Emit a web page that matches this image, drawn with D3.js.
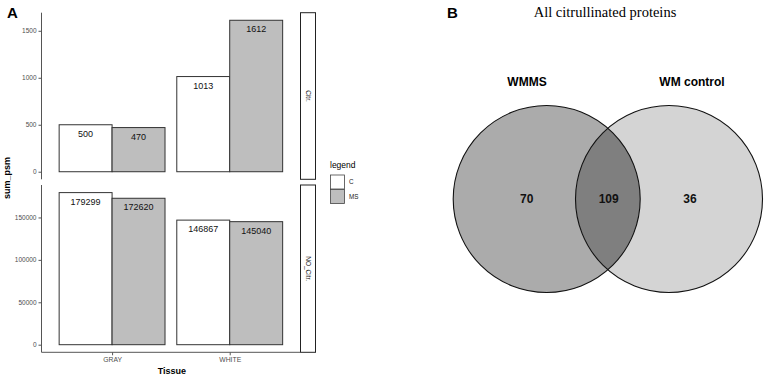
<!DOCTYPE html>
<html>
<head>
<meta charset="utf-8">
<script src="https://cdn.jsdelivr.net/npm/d3@7"></script>
<style>
  body { margin: 0; background: #fff; }
  svg { display: block; }
</style>
</head>
<body>
<div id="chart"></div>
<script>
// bar chart data (panel A)
const tissues = ["GRAY", "WHITE"];
const groups = ["C", "MS"];
const facets = ["Citr.", "NO_Citr."];
const citrC = [500, 1013];
const citrMS = [470, 1612];
const noCitrC = [179299, 146867];
const noCitrMS = [172620, 145040];
const citrTicks = [0, 500, 1000, 1500];
const noCitrTicks = [0, 50000, 100000, 150000];
const groupColors = ["#ffffff", "#bebebe"];

// venn data (panel B)
const vennTitle = "All citrullinated proteins";
const vennSets = ["WMMS", "WM control"];
const vennCounts = [70, 109, 36];
const vennColors = ["#ababab", "#7f7f7f", "#d4d4d4"];

const W = 767, H = 378;
const svg = d3.select("#chart").append("svg")
  .attr("width", W).attr("height", H)
  .attr("font-family", "Liberation Sans, Arial, sans-serif");

// ---------- panel A ----------
svg.append("text").attr("x", 7).attr("y", 18)
  .attr("font-size", "15px").attr("font-weight", "bold").text("A");

const panelX = [41.5, 300.3];
const panels = [
  {name: facets[0], top: 12.7, bottom: 179.3, c: citrC, ms: citrMS, ticks: citrTicks},
  {name: facets[1], top: 185, bottom: 352.3, c: noCitrC, ms: noCitrMS, ticks: noCitrTicks}
];

// ggplot style discrete scale: centers at 1,2 with 0.6 expansion
const xc = d3.scaleLinear().domain([0.4, 2.6]).range(panelX);
const xg = d3.scaleBand().domain(groups).range([-0.45, 0.45]);

panels.forEach(function(p){
  const maxV = d3.max(p.c.concat(p.ms));
  const y = d3.scaleLinear()
    .domain([-maxV * 0.05, maxV * 1.05])
    .range([p.bottom, p.top]);

  const g = svg.append("g");

  // bars
  tissues.forEach(function(t, i){
    [p.c, p.ms].forEach(function(vals, k){
      const x0 = xc(i + 1 + xg(groups[k]));
      const x1 = xc(i + 1 + xg(groups[k]) + xg.bandwidth());
      g.append("rect")
        .attr("x", x0).attr("y", y(vals[i]))
        .attr("width", x1 - x0).attr("height", y(0) - y(vals[i]))
        .style("fill", groupColors[k])
        .style("stroke", "#333")
        .style("stroke-width", 1);
      g.append("text")
        .attr("x", (x0 + x1) / 2).attr("y", y(vals[i]) + 12)
        .attr("text-anchor", "middle")
        .attr("font-size", "9px")
        .attr("fill", "#111")
        .text(vals[i]);
    });
  });

  // y axis
  const ya = g.append("g")
    .attr("transform", "translate(" + panelX[0] + ",0)")
    .call(d3.axisLeft(y).tickValues(p.ticks).tickFormat(d3.format("d"))
      .tickSize(3).tickPadding(2).tickSizeOuter(0));
  ya.select(".domain").attr("stroke", "#555").attr("d", "M0," + p.top + "V" + p.bottom);
  ya.selectAll(".tick line").attr("stroke", "#555");
  ya.selectAll(".tick text").attr("font-size", "6.5px").attr("fill", "#4d4d4d")
    .attr("font-family", "Liberation Sans, Arial, sans-serif");

  // strip
  g.append("rect")
    .attr("x", 300.5).attr("y", p.top)
    .attr("width", 15).attr("height", p.bottom - p.top)
    .style("fill", "#fff").style("stroke", "#222").style("stroke-width", 1);
  g.append("text")
    .attr("transform", "translate(" + 308 + "," + (p.top + p.bottom) / 2 + ") rotate(90)")
    .attr("text-anchor", "middle").attr("dy", "0.35em")
    .attr("font-size", "6.5px").attr("fill", "#1a1a1a")
    .text(p.name);
});

// x axis (bottom panel only)
const xa = svg.append("g")
  .attr("transform", "translate(0," + panels[1].bottom + ")")
  .call(d3.axisBottom(d3.scalePoint().domain(tissues).range([xc(1), xc(2)]))
    .tickSize(3).tickPadding(2).tickSizeOuter(0));
xa.select(".domain").attr("stroke", "#555").attr("d", "M" + panelX[0] + ",0H" + panelX[1]);
xa.selectAll(".tick line").attr("stroke", "#555");
xa.selectAll(".tick text").attr("font-size", "6.8px").attr("fill", "#4d4d4d")
  .attr("font-family", "Liberation Sans, Arial, sans-serif");

// axis titles
svg.append("text")
  .attr("x", (panelX[0] + panelX[1]) / 2 + 1).attr("y", 374)
  .attr("text-anchor", "middle").attr("font-size", "9px").attr("font-weight", "bold")
  .text("Tissue");
svg.append("text")
  .attr("transform", "translate(10,178) rotate(-90)")
  .attr("text-anchor", "middle").attr("font-size", "9px").attr("font-weight", "bold")
  .text("sum_psm");

// legend
const leg = svg.append("g").attr("transform", "translate(330,168)");
leg.append("text").attr("x", 0).attr("y", 0).attr("font-size", "8.5px").text("legend");
groups.forEach(function(gname, k){
  leg.append("rect")
    .attr("x", 0.5).attr("y", 7 + k * 14.5)
    .attr("width", 14).attr("height", 14)
    .style("fill", groupColors[k]).style("stroke", "#444").style("stroke-width", 0.8);
  leg.append("text")
    .attr("x", 19).attr("y", 7 + k * 14.5 + 7).attr("dy", "0.35em")
    .attr("font-size", "6.3px").attr("fill", "#1a1a1a").text(gname);
});

// ---------- panel B ----------
svg.append("text").attr("x", 447).attr("y", 18)
  .attr("font-size", "15px").attr("font-weight", "bold").text("B");
svg.append("text").attr("x", 605).attr("y", 17)
  .attr("text-anchor", "middle").attr("font-size", "14.5px")
  .attr("font-family", "Liberation Serif, Times New Roman, serif")
  .text(vennTitle);

const r = 93.5, cy = 199;
const cxs = [546.7, 669];

svg.append("defs").append("clipPath").attr("id", "leftClip")
  .append("circle").attr("cx", cxs[0]).attr("cy", cy).attr("r", r);

svg.append("circle").attr("cx", cxs[0]).attr("cy", cy).attr("r", r)
  .style("fill", vennColors[0]);
svg.append("circle").attr("cx", cxs[1]).attr("cy", cy).attr("r", r)
  .style("fill", vennColors[2]);
svg.append("circle").attr("cx", cxs[1]).attr("cy", cy).attr("r", r)
  .attr("clip-path", "url(#leftClip)")
  .style("fill", vennColors[1]);
cxs.forEach(function(cx){
  svg.append("circle").attr("cx", cx).attr("cy", cy).attr("r", r)
    .style("fill", "none").style("stroke", "#111").style("stroke-width", 1.1);
});

// set names
svg.append("text").attr("x", 527).attr("y", 86).attr("text-anchor", "middle")
  .attr("font-size", "12px").attr("font-weight", "bold").text(vennSets[0]);
svg.append("text").attr("x", 692).attr("y", 86).attr("text-anchor", "middle")
  .attr("font-size", "12px").attr("font-weight", "bold").text(vennSets[1]);

// counts
const countX = [526.7, 608.7, 690];
vennCounts.forEach(function(v, i){
  svg.append("text").attr("x", countX[i]).attr("y", cy).attr("dy", "0.35em")
    .attr("text-anchor", "middle").attr("font-size", "12px").attr("font-weight", "bold")
    .attr("fill", "#111").text(v);
});
</script>
</body>
</html>
